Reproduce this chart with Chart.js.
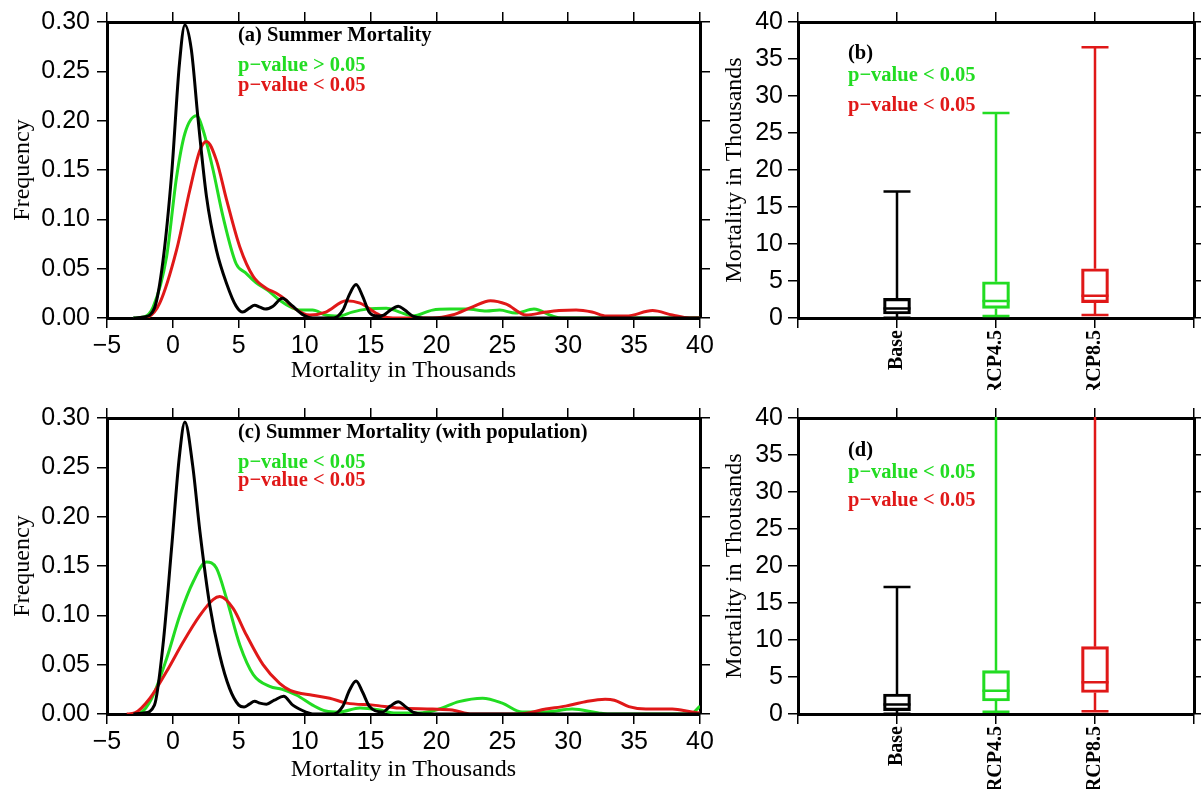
<!DOCTYPE html>
<html><head><meta charset="utf-8">
<script src="https://cdn.jsdelivr.net/npm/chart.js@4.4.0/dist/chart.umd.min.js"></script>
<style>
html,body{margin:0;padding:0;background:#fff;width:1201px;height:789px;overflow:hidden}
canvas{position:absolute;display:block}
</style></head><body>
<canvas id="ca" width="730" height="390" style="left:0;top:0"></canvas>
<canvas id="cc" width="730" height="399" style="left:0;top:390px"></canvas>
<canvas id="cb" width="489" height="390" style="left:712px;top:0"></canvas>
<canvas id="cd" width="489" height="399" style="left:712px;top:390px"></canvas>
<script>
// ---------- data: panel (a) density curves ----------
const aBaseX = [-3,-2.2,-1.4,-0.75,-0.1,0.5,0.91,1.4,1.9,2.55,3.3,4.1,4.8,5.3,5.8,6.2,6.6,7.0,7.6,8.3,9.0,9.9,10.6,12.2,12.9,13.4,13.9,14.4,14.9,15.5,16.0,16.5,17.1,17.6,18.2,19,40];
const aBaseY = [0,0.001,0.01,0.058,0.145,0.258,0.297,0.272,0.203,0.123,0.069,0.034,0.012,0.006,0.010,0.013,0.011,0.009,0.012,0.020,0.013,0.003,0,0,0.008,0.024,0.034,0.022,0.006,0.002,0.003,0.008,0.012,0.008,0.002,0,0];
const aRcp45X = [-3,-2.2,-1.5,-0.48,0.28,0.91,1.8,2.3,3.05,3.8,4.8,5.5,6.3,7.3,8.1,9.1,9.6,10.6,11.6,12.6,13.6,14.7,16.2,17.2,18.2,19.7,21,22.3,23.8,24.8,26.0,27.4,28.8,29.5,40];
const aRcp45Y = [0,0.001,0.011,0.062,0.143,0.187,0.205,0.19,0.15,0.103,0.055,0.046,0.036,0.027,0.018,0.010,0.008,0.008,0.003,0.002,0.006,0.009,0.010,0.006,0.002,0.008,0.009,0.009,0.007,0.008,0.005,0.009,0.002,0,0];
const aRcp85X = [-2.5,-1.9,-1.0,0.28,1.29,2.05,2.55,3.3,4.07,5.08,6.1,7.1,7.85,8.5,9.1,10.4,11.6,13.15,14.2,15.7,16.7,19.7,21.2,22.7,24.1,25.3,26.8,28.3,29.3,30.6,31.8,32.9,34.4,36.4,37.9,39.2,40];
const aRcp85Y = [0,0.001,0.015,0.069,0.13,0.17,0.179,0.160,0.12,0.072,0.042,0.030,0.025,0.019,0.011,0.003,0.006,0.0175,0.015,0.003,0,0,0.003,0.011,0.0175,0.014,0.003,0.006,0.0075,0.008,0.006,0.002,0.002,0.0075,0.003,0,0];

// ---------- data: panel (c) density curves (with population) ----------
const cBaseX = [-3,-2.2,-1.4,-0.75,-0.1,0.5,0.91,1.5,2.05,2.8,3.55,4.3,5.0,5.4,5.8,6.2,6.6,7.1,7.7,8.4,9.1,10.1,10.6,12.2,12.9,13.4,13.9,14.4,14.9,15.9,16.5,17.1,17.6,18.2,19,40];
const cBaseY = [0,0.001,0.009,0.07,0.168,0.262,0.296,0.252,0.185,0.11,0.06,0.026,0.009,0.007,0.010,0.013,0.011,0.010,0.014,0.018,0.009,0.002,0,0,0.008,0.024,0.0335,0.022,0.008,0.002,0.008,0.0125,0.008,0.002,0,0];
const cRcp45X = [-3,-2.5,-1.6,-0.48,0.53,1.54,2.55,3.3,4.07,5.08,6.1,7.35,8.3,9.4,10.6,11.6,12.6,14.2,15.7,16.9,18.7,20.2,21.7,23.5,25.0,26.5,28.3,30.3,32.3,33,39.3,40];
const cRcp45Y = [0,0.001,0.016,0.056,0.10,0.134,0.154,0.148,0.117,0.07,0.04,0.028,0.025,0.019,0.009,0.003,0.002,0.006,0.004,0.001,0.001,0.005,0.0125,0.016,0.011,0.002,0.002,0.005,0.001,0,0,0.008];
const cRcp85X = [-3.5,-2.9,-1.74,-0.48,0.78,2.05,3.05,3.56,4.57,5.58,6.84,8.1,8.9,10.6,11.9,13.2,15.2,17.2,19.7,21.2,22.7,26.3,28.3,29.8,31.3,32.8,33.5,34.6,35.9,37.9,39.4,40];
const cRcp85Y = [0,0.001,0.016,0.043,0.073,0.10,0.116,0.119,0.107,0.08,0.05,0.031,0.024,0.019,0.016,0.011,0.009,0.006,0.005,0.004,0,0,0.005,0.008,0.0125,0.015,0.014,0.0075,0.005,0.005,0.002,0.001];

const densityTicks = { min: -5, max: 40, step: 5 };
const freqTicks = { min: 0, max: 0.3, step: 0.05 };

// ---------- data: box plots (b) and (d) ----------
const boxCats = ['Base', 'RCP4.5', 'RCP8.5'];
const bMin = [0.05, 0.27, 0.4];
const bQ1  = [0.54, 1.3, 2.07];
const bMed = [1.3, 2.3, 3.0];
const bQ3  = [2.66, 4.9, 6.66];
const bMax = [17.1, 27.7, 36.6];

const dMin = [0.05, 0.3, 0.36];
const dQ1  = [0.45, 1.76, 2.9];
const dMed = [1.3, 3.15, 4.28];
const dQ3  = [2.7, 5.86, 9.1];
const dMax = [17.16, 48, 55];

const mortTicks = { min: 0, max: 40, step: 5 };

// ---------- styles ----------
const GREEN = '#22dc22', RED = '#e01818', BLACK = '#000000';
const boxColors = [BLACK, GREEN, RED];
const SANS = '"Liberation Sans", Arial, Helvetica, sans-serif';
const SERIF = '"Liberation Serif", "Times New Roman", serif';
Chart.defaults.font.family = SANS;
Chart.defaults.color = '#000';

function pts(xs, ys) { return xs.map((x, i) => ({ x: x, y: ys[i] })); }
function fit(w, h) {
  return function (s) {
    if (w != null) s.width = w;
    if (h != null) s.height = h;
    s.paddingLeft = 0; s.paddingRight = 0; s.paddingTop = 0; s.paddingBottom = 0;
  };
}
function lineDs(label, xs, ys, color, order) {
  return { type: 'line', label: label, data: pts(xs, ys), borderColor: color, borderWidth: 3,
    pointRadius: 0, fill: false, cubicInterpolationMode: 'monotone', order: order };
}
const border = { display: true, width: 3, color: '#000' };
const gridOut = { drawOnChartArea: false, drawTicks: true, tickLength: 10, color: '#000', lineWidth: 1.5 };

const notesPlugin = {
  id: 'notes',
  afterDraw(chart, args, opts) {
    if (!opts.items) return;
    const ctx = chart.ctx, a = chart.chartArea;
    ctx.save();
    ctx.textBaseline = 'middle'; ctx.textAlign = 'left';
    opts.items.forEach(n => {
      ctx.font = n.font; ctx.fillStyle = n.color;
      ctx.fillText(n.text, a.left + n.dx, a.top + n.dy);
    });
    ctx.restore();
  }
};

const whiskerPlugin = {
  id: 'whiskers',
  afterDatasetsDraw(chart, args, opts) {
    if (!opts.stats) return;
    const { ctx, chartArea: a } = chart;
    const xs = chart.scales.x, ys = chart.scales.y;
    const s = opts.stats;
    ctx.save();
    ctx.beginPath();
    ctx.rect(a.left, a.top - 1, a.right - a.left, a.bottom - a.top + 2);
    ctx.clip();
    ctx.lineWidth = opts.lineWidth;
    s.cats.forEach((c, i) => {
      const cx = xs.getPixelForValue(xs.getLabels().indexOf(c));
      const h = opts.width / 2;
      const pMin = ys.getPixelForValue(s.min[i]), pQ1 = ys.getPixelForValue(s.q1[i]);
      const pMed = ys.getPixelForValue(s.med[i]), pQ3 = ys.getPixelForValue(s.q3[i]);
      const pMax = ys.getPixelForValue(s.max[i]);
      ctx.strokeStyle = s.colors[i];
      ctx.beginPath();
      ctx.moveTo(cx, pMin); ctx.lineTo(cx, pQ1);
      ctx.moveTo(cx, pQ3); ctx.lineTo(cx, pMax);
      ctx.moveTo(cx - h, pMin); ctx.lineTo(cx + h, pMin);
      ctx.moveTo(cx - h, pMax); ctx.lineTo(cx + h, pMax);
      ctx.moveTo(cx - h, pMed); ctx.lineTo(cx + h, pMed);
      ctx.stroke();
    });
    ctx.restore();
  }
};
Chart.register(notesPlugin, whiskerPlugin);

function noteItems(title, greenTxt, redTxt, dx, dyT, dyG, dyR) {
  const f = 'bold 20.5px ' + SERIF;
  return [
    { text: title, font: f, color: BLACK, dx: dx, dy: dyT },
    { text: greenTxt, font: f, color: GREEN, dx: dx, dy: dyG },
    { text: redTxt, font: f, color: RED, dx: dx, dy: dyR }
  ];
}

function densityChart(id, topH, botH, series, notes) {
  return new Chart(document.getElementById(id), {
    type: 'line',
    data: { datasets: series },
    options: {
      responsive: false, animation: false, devicePixelRatio: 1,
      layout: { padding: 0 },
      plugins: { legend: { display: false }, tooltip: { enabled: false }, notes: { items: notes } },
      scales: {
        x: { type: 'linear', position: 'bottom', min: densityTicks.min, max: densityTicks.max,
          ticks: { stepSize: densityTicks.step, font: { size: 25, family: SANS }, padding: 3, maxRotation: 0, color: '#000',
            callback: v => (v < 0 ? '\u2212' + Math.abs(v) : String(v)) },
          grid: gridOut, border: border,
          title: { display: true, text: 'Mortality in Thousands', font: { size: 24, family: SERIF }, color: '#000', padding: { top: 0, bottom: 5 } },
          afterFit: fit(null, botH) },
        x2: { type: 'linear', position: 'top', min: densityTicks.min, max: densityTicks.max,
          ticks: { stepSize: densityTicks.step, display: false }, grid: gridOut, border: border,
          afterFit: fit(null, topH) },
        y: { type: 'linear', position: 'left', min: freqTicks.min, max: freqTicks.max,
          ticks: { stepSize: freqTicks.step, font: { size: 25, family: SANS }, padding: 7, color: '#000',
            callback: v => Number(v).toFixed(2) },
          grid: gridOut, border: border,
          title: { display: true, text: 'Frequency', font: { size: 24, family: SERIF }, color: '#000', padding: { top: 8, bottom: 0 } },
          afterFit: fit(107, null) },
        y2: { type: 'linear', position: 'right', min: freqTicks.min, max: freqTicks.max,
          ticks: { stepSize: freqTicks.step, display: false }, grid: gridOut, border: border,
          afterFit: fit(30, null) }
      }
    }
  });
}

function boxChart(id, topH, botH, st, notes) {
  const catLabels = [''].concat(boxCats, ['']);
  return new Chart(document.getElementById(id), {
    type: 'bar',
    data: {
      labels: catLabels,
      datasets: [{
        label: 'IQR',
        data: st.cats.map((c, i) => ({ x: c, y: [st.q1[i], st.q3[i]] })),
        backgroundColor: 'rgba(0,0,0,0)', borderColor: st.colors, borderWidth: 2.5,
        borderSkipped: false, barThickness: 27
      }]
    },
    options: {
      responsive: false, animation: false, devicePixelRatio: 1,
      layout: { padding: 0 },
      plugins: { legend: { display: false }, tooltip: { enabled: false }, notes: { items: notes },
        whiskers: { stats: st, width: 27, lineWidth: 2.5 } },
      scales: {
        x: { type: 'category', position: 'bottom', offset: false,
          ticks: { autoSkip: false, minRotation: 90, maxRotation: 90, padding: 2, color: '#000',
            font: { size: 20, family: SERIF, weight: 'bold' } },
          grid: Object.assign({}, gridOut, { offset: false }), border: border,
          afterFit: fit(null, botH) },
        x2: { type: 'category', position: 'top', offset: false, labels: catLabels,
          ticks: { display: false, autoSkip: false }, grid: Object.assign({}, gridOut, { offset: false }), border: border,
          afterFit: fit(null, topH) },
        y: { type: 'linear', position: 'left', min: mortTicks.min, max: mortTicks.max,
          ticks: { stepSize: mortTicks.step, font: { size: 25, family: SANS }, padding: 5, color: '#000' },
          grid: gridOut, border: border,
          title: { display: true, text: 'Mortality in Thousands', font: { size: 24, family: SERIF }, color: '#000', padding: { top: 8, bottom: 0 } },
          afterFit: fit(86, null) },
        y2: { type: 'linear', position: 'right', min: mortTicks.min, max: mortTicks.max,
          ticks: { stepSize: mortTicks.step, display: false }, grid: gridOut, border: border,
          afterFit: fit(7, null) }
      }
    }
  });
}

densityChart('ca', 22, 72, [
  lineDs('Base', aBaseX, aBaseY, BLACK, 0),
  lineDs('RCP4.5', aRcp45X, aRcp45Y, GREEN, 2),
  lineDs('RCP8.5', aRcp85X, aRcp85Y, RED, 1)
], noteItems('(a) Summer Mortality', 'p\u2212value > 0.05', 'p\u2212value < 0.05', 131, 14, 44, 64));

densityChart('cc', 28, 75, [
  lineDs('Base', cBaseX, cBaseY, BLACK, 0),
  lineDs('RCP4.5', cRcp45X, cRcp45Y, GREEN, 2),
  lineDs('RCP8.5', cRcp85X, cRcp85Y, RED, 1)
], noteItems('(c) Summer Mortality (with population)', 'p\u2212value < 0.05', 'p\u2212value < 0.05', 131, 15, 45, 63));

boxChart('cb', 22, 72, { cats: boxCats, min: bMin, q1: bQ1, med: bMed, q3: bQ3, max: bMax, colors: boxColors },
  noteItems('(b)', 'p\u2212value < 0.05', 'p\u2212value < 0.05', 50, 32, 54, 84));

boxChart('cd', 28, 75, { cats: boxCats, min: dMin, q1: dQ1, med: dMed, q3: dQ3, max: dMax, colors: boxColors },
  noteItems('(d)', 'p\u2212value < 0.05', 'p\u2212value < 0.05', 50, 33, 55, 83));
</script>
</body></html>
